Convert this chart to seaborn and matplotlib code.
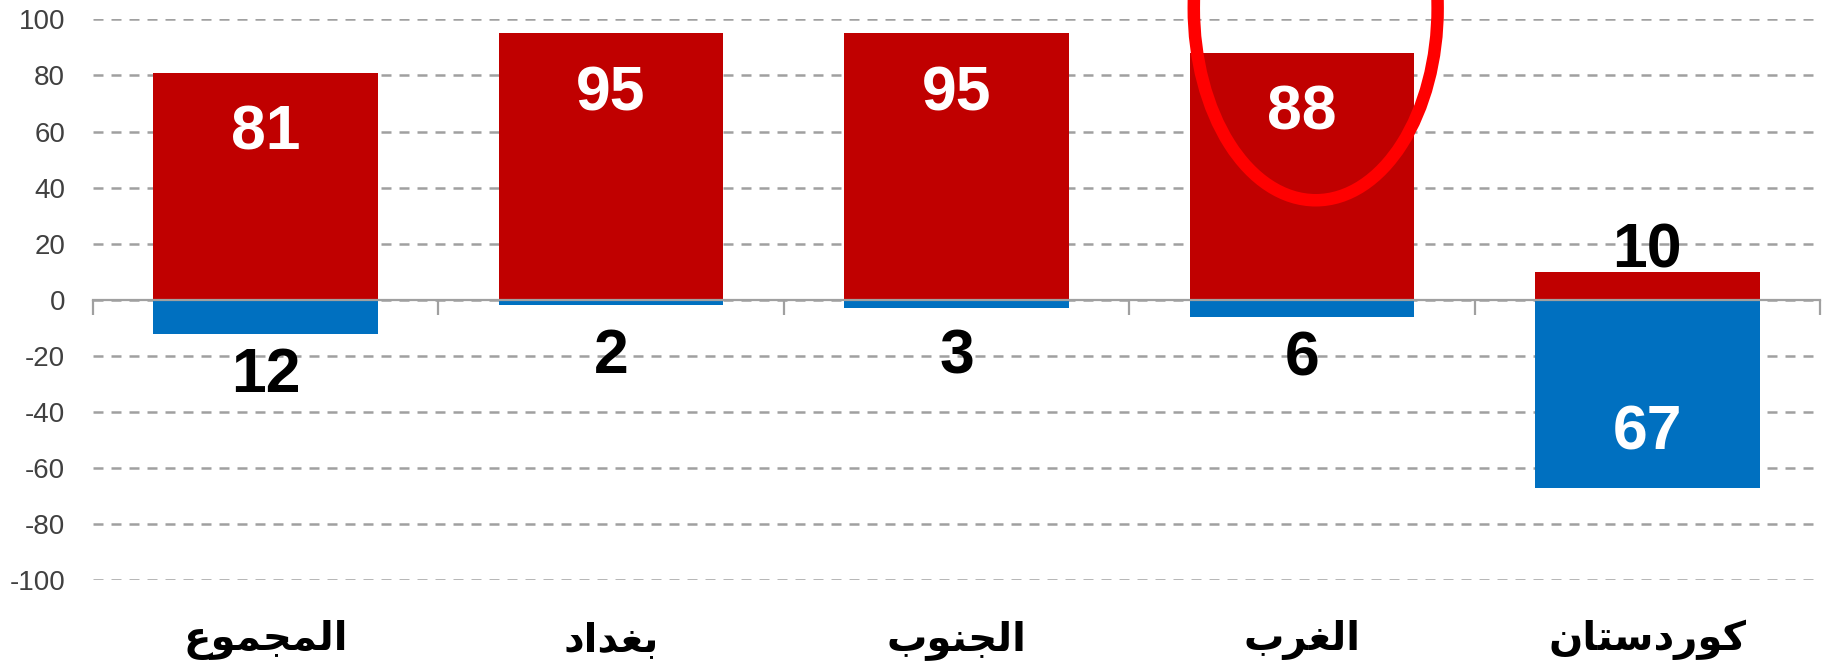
import matplotlib
matplotlib.use('Agg')
import matplotlib.pyplot as plt
import matplotlib.transforms as mtransforms
from matplotlib.patches import Ellipse
import seaborn as sns
import numpy as np
import pandas as pd

# data
regions = ['المجموع', 'بغداد', 'الجنوب', 'الغرب', 'كوردستان']
red_values = [81, 95, 95, 88, 10]
blue_values = [12, 2, 3, 6, 67]
y_ticks = list(range(-100, 101, 20))
highlight = 'الغرب'

RED = '#C00000'
BLUE = '#0070C0'
GRID = '#A0A0A0'
TICK_TEXT = '#404040'

# arabic presentation forms: isolated, final, initial, medial
FORMS = {
    'ا': ('\uFE8D', '\uFE8E'),
    'ب': ('\uFE8F', '\uFE90', '\uFE91', '\uFE92'),
    'ت': ('\uFE95', '\uFE96', '\uFE97', '\uFE98'),
    'ج': ('\uFE9D', '\uFE9E', '\uFE9F', '\uFEA0'),
    'د': ('\uFEA9', '\uFEAA'),
    'ر': ('\uFEAD', '\uFEAE'),
    'س': ('\uFEB1', '\uFEB2', '\uFEB3', '\uFEB4'),
    'ع': ('\uFEC9', '\uFECA', '\uFECB', '\uFECC'),
    'غ': ('\uFECD', '\uFECE', '\uFECF', '\uFED0'),
    'ك': ('\uFED9', '\uFEDA', '\uFEDB', '\uFEDC'),
    'ل': ('\uFEDD', '\uFEDE', '\uFEDF', '\uFEE0'),
    'م': ('\uFEE1', '\uFEE2', '\uFEE3', '\uFEE4'),
    'ن': ('\uFEE5', '\uFEE6', '\uFEE7', '\uFEE8'),
    'و': ('\uFEED', '\uFEEE'),
}


def shape_arabic(word):
    # matplotlib has no shaping, so pick joined forms and reverse for LTR drawing
    out = []
    for i, ch in enumerate(word):
        forms = FORMS[ch]
        prev_joins = i > 0 and len(FORMS[word[i - 1]]) == 4
        next_joins = len(forms) == 4 and i < len(word) - 1
        if prev_joins and next_joins:
            out.append(forms[3])
        elif next_joins:
            out.append(forms[2])
        elif prev_joins:
            out.append(forms[1])
        else:
            out.append(forms[0])
    return ''.join(reversed(out))


sns.set_style('white')
plt.rcParams['font.family'] = ['Liberation Sans', 'DejaVu Sans']

df = pd.DataFrame({'region': regions,
                   'red': red_values,
                   'blue': [-v for v in blue_values]})

fig = plt.figure(figsize=(18.24, 6.70), dpi=100)
ax = fig.add_axes([0.051, 0.1337, 0.9468, 0.8375])
ax.set_axisbelow(True)

sns.barplot(data=df, x='region', y='red', color=RED, saturation=1, width=0.65,
            order=regions, ax=ax, linewidth=0)
sns.barplot(data=df, x='region', y='blue', color=BLUE, saturation=1, width=0.65,
            order=regions, ax=ax, linewidth=0)

ax.set_ylim(-100, 100)
ax.set_xlim(-0.5, len(regions) - 0.5)
ax.set_yticks(y_ticks)
ax.set_yticklabels([str(t) for t in y_ticks])
ax.set_xlabel('')
ax.set_ylabel('')

ax.yaxis.grid(True, color=GRID, lw=1.8, linestyle=(0, (4.0, 3.2)))
ax.xaxis.grid(False)
for side in ['left', 'top', 'right']:
    ax.spines[side].set_visible(False)
ax.spines['bottom'].set_position(('data', 0))
ax.spines['bottom'].set_color(GRID)
ax.spines['bottom'].set_linewidth(1.6)
ax.spines['bottom'].set_zorder(4)

ax.set_xticks(np.arange(-0.5, len(regions), 1))
ax.set_xticklabels([])
ax.tick_params(axis='x', direction='out', length=11, width=1.6, color=GRID, bottom=True)
ax.tick_params(axis='y', length=0, pad=20, labelsize=20, labelcolor=TICK_TEXT)

# value labels
lab = dict(ha='center', va='center', fontsize=45, fontweight='bold')
for i, (r, b) in enumerate(zip(red_values, blue_values)):
    if r > 50:
        ax.text(i, r - 21.5, str(r), color='white', **lab)
    else:
        ax.text(i, r + 7.5, str(r), color='black', **lab)
    if b > 50:
        ax.text(i, -b + 19.5, str(b), color='white', **lab)
    else:
        ax.text(i, min(-b - 15, -20.3), str(b), color='black', **lab)

# category names below the plot
trans = mtransforms.blended_transform_factory(ax.transData, ax.transAxes)
for i, name in enumerate(regions):
    ax.text(i, -0.106, shape_arabic(name), transform=trans, ha='center', va='center',
            fontsize=29, fontweight='bold', color='black', family=['DejaVu Sans'])

# red ring around the highlighted region
hi = regions.index(highlight)
ring = Ellipse((hi + 0.040, 104), width=0.706, height=137, fill=False,
               edgecolor='#FF0000', lw=9, clip_on=False, zorder=6)
ax.add_patch(ring)

fig.savefig('out.png', dpi=100)
